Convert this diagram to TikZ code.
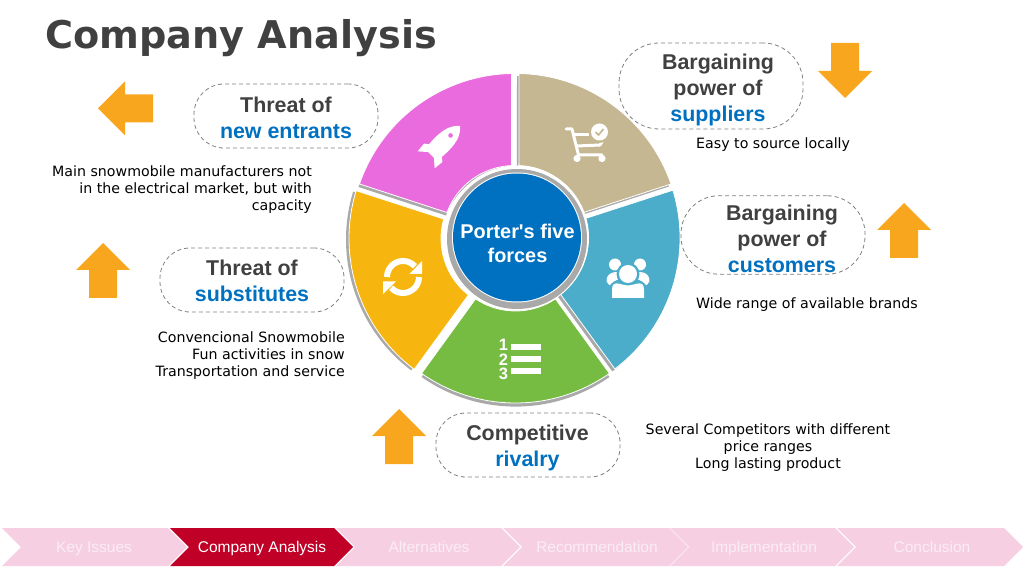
\documentclass[tikz,border=0pt]{standalone}
\usepackage{fontspec}
\setmainfont{Liberation Sans}[Ligatures=TeXOff]
\newfontfamily\verdanalike{DejaVu Sans}
\definecolor{titlegrey}{HTML}{404040}
\definecolor{ringgrey}{HTML}{A9A9A9}
\definecolor{dashgrey}{HTML}{7F7F7F}
\definecolor{forceblue}{HTML}{0070C0}
\definecolor{arroworange}{HTML}{F9A61F}
\definecolor{segpurple}{HTML}{E96BDD}
\definecolor{segtan}{HTML}{C4B792}
\definecolor{segteal}{HTML}{4BADC9}
\definecolor{seggreen}{HTML}{76BC43}
\definecolor{segyellow}{HTML}{F7B50F}
\definecolor{navpink}{HTML}{F6CFE3}
\definecolor{navred}{HTML}{C00026}
\definecolor{navfaint}{HTML}{FBEDF4}
\newcommand{\segpath}[2]{(#1+1.05:164) arc[start angle=#1+1.05,end angle=#2-1.05,radius=164] -- (#2-2.3:72) arc[start angle=#2-2.3,end angle=#1+2.3,radius=72] -- cycle}
\tikzset{
  forcebox/.style={draw=dashgrey,dash pattern=on 4pt off 3pt,line width=0.8pt,minimum width=184pt,inner sep=0pt},
  forcelabel/.style={inner sep=0pt,font=\bfseries\fontsize{21.4}{26}\selectfont,text=titlegrey,align=center},
  note/.style={inner sep=0pt,font=\verdanalike\fontsize{14.2}{17}\selectfont,text=black},
  forcearrow/.style={fill=arroworange,draw=none},
  navlabel/.style={inner sep=0pt,anchor=base,font=\fontsize{15.5}{17}\selectfont}
}
\begin{document}
\begin{tikzpicture}[x=1pt,y=1pt]
  \useasboundingbox (0,0) rectangle (1024,576);

  \node[anchor=west,inner sep=0pt,text=titlegrey,font=\verdanalike\bfseries\fontsize{38.2}{44}\selectfont] (title) at (45,538) {Company Analysis};

  % wheel
  \begin{scope}[shift={(515.5,338.5)}]
    \foreach \a/\b/\segcol/\sx/\sy/\ox/\oy in {90/162/segpurple/-1/-3/-1/0,18/90/segtan/-2/-2.5/0.5/0,-54/18/segteal/-2.5/-2.5/0.5/-0.5,-126/-54/seggreen/0/-3.6/0/-1.5,162/234/segyellow/-3/-1/-2.5/-1}{
      \fill[ringgrey,shift={(\ox+\sx,\oy+\sy)}] \segpath{\a}{\b};
      \fill[\segcol,draw=white,line width=0.8pt,shift={(\ox,\oy)}] \segpath{\a}{\b};
    }
  \end{scope}
  \begin{scope}[shift={(517,338.5)}]
    \fill[white] (0,0) circle (72);
    \fill[ringgrey] (0,-1.5) circle (70);
    \fill[white] (0,0) circle (65);
    \node[circle,fill=forceblue,minimum size=128pt,inner sep=0pt] (hub) at (0,0) {};
    \node[inner sep=0pt,text=white,align=center,font=\bfseries\fontsize{19.9}{24}\selectfont] (hublabel) at (0.5,-6) {Porter's five\\forces};
  \end{scope}

  % rocket
  \begin{scope}[shift={(441,431)},rotate=-45]
    \fill[white] (0,27) .. controls (8,20) and (10.5,10) .. (9,-8) -- (13,-11) -- (12,-21) -- (4,-14) -- (-4,-14) -- (-12,-21) -- (-13,-11) -- (-9,-8) .. controls (-10.5,10) and (-8,20) .. (0,27) -- cycle;
    \fill[segpurple] (0,13.5) circle (2.3);
  \end{scope}

  % cart
  \begin{scope}[white,line width=3pt,line cap=round,line join=round]
    \draw (566,447) -- (572,447) -- (578.5,421) -- (602,421);
    \draw (574,441) -- (591,441);
    \draw (576.5,430) -- (600,431) -- (603,436);
    \fill (577,417.5) circle (3.6);
    \fill (602,417.5) circle (3.6);
  \end{scope}
  \fill[segtan] (599.5,444) circle (11);
  \fill[white] (599.5,444) circle (8.5);
  \draw[segtan,line width=1.6pt] (595.5,444) -- (598.5,441) -- (603.5,447);

  % people
  \fill[white] (615,311.5) circle (6);
  \fill[white] (640,311.5) circle (6);
  \fill[white] (606.5,295) .. controls (606,306) and (622,306) .. (628,300) .. controls (634,306) and (650,306) .. (649.5,295) .. controls (649,290) and (640,288) .. (628,288) .. controls (616,288) and (607,290) .. (606.5,295) -- cycle;
  \fill[segteal] (628,302) circle (11.5);
  \fill[segteal] (628,287) ellipse (19 and 11);
  \fill[white] (628,302) circle (9);
  \fill[white] (612,278) -- (644,278) -- (644,286) .. controls (644,297) and (636,291) .. (628,290.5) .. controls (620,291) and (612,297) .. (612,286) -- cycle;

  % sync
  \begin{scope}[white,line width=6pt]
    \draw (387,299) arc[start angle=180,end angle=42,radius=16];
    \draw (419,299) arc[start angle=0,end angle=-138,radius=16];
  \end{scope}
  \fill[white] (422,315) -- (422,302) -- (409.5,302) -- cycle;
  \fill[white] (383,294.5) -- (396,294.5) -- (383,282) -- cycle;

  % list
  \foreach \ly/\ny/\num in {228.8/231/1,217/216.5/2,204.8/202/3}{
    \fill[white] (511,\ly-2.8) rectangle (540.5,\ly+2.8);
    \node[inner sep=0pt,text=white,font=\bfseries\fontsize{16.5}{16.5}\selectfont] (num\num) at (503.5,\ny) {\num};
  }

  % forces
  \node[forcebox,minimum height=64pt,rounded corners=30pt] (entrants) at (286,460) {};
  \node[forcebox,minimum height=86pt,rounded corners=40pt] (suppliers) at (711,490) {};
  \node[forcebox,minimum height=78.5pt,rounded corners=38pt] (customers) at (773,341) {};
  \node[forcebox,minimum height=64pt,rounded corners=30pt] (substitutes) at (252,296) {};
  \node[forcebox,minimum height=64pt,rounded corners=30pt] (rivalry) at (528,131) {};
  \node[forcelabel] (entrantslabel) at (286,458) {Threat of\\\textcolor{forceblue}{new entrants}};
  \node[forcelabel] (supplierslabel) at (718,486) {Bargaining\\power of\\\textcolor{forceblue}{suppliers}};
  \node[forcelabel] (customerslabel) at (782,337) {Bargaining\\power of\\\textcolor{forceblue}{customers}};
  \node[forcelabel] (substituteslabel) at (252,295) {Threat of\\\textcolor{forceblue}{substitutes}};
  \node[forcelabel] (rivalrylabel) at (527.5,128) {Competitive\\\textcolor{forceblue}{rivalry}};

  % notes
  \node[note,anchor=east,align=right] (noteentrants) at (312,386) {Main snowmobile manufacturers not\\in the electrical market, but with\\capacity};
  \node[note,anchor=east,align=right] (notesubstitutes) at (345,220) {Convencional Snowmobile\\Fun activities in snow\\Transportation and service};
  \node[note,anchor=west] (notesuppliers) at (696,431) {Easy to source locally};
  \node[note,anchor=west] (notecustomers) at (696,271) {Wide range of available brands};
  \node[note,align=center] (noterivalry) at (768,128) {Several Competitors with different\\price ranges\\Long lasting product};

  % arrows
  \foreach \ax/\ay/\arot in {125.5/467.5/90,103/305.5/0,845/505.5/180,904/345.5/0,399/139.5/0}{
    \fill[forcearrow,shift={(\ax,\ay)},rotate=\arot] (0,27.5) -- (27,0.5) -- (14,0.5) -- (14,-27.5) -- (-14,-27.5) -- (-14,0.5) -- (-27,0.5) -- cycle;
  }

  % navigation
  \foreach \i/\nx/\nw/\tx/\navcol/\navtxt/\navtext in {1/2/166/94/navpink/navfaint/Key Issues,2/170/164/262/navred/white/Company Analysis,3/336/165/429/navpink/navfaint/Alternatives,4/503/166/597/navpink/navfaint/Recommendation,5/670/165/764/navpink/navfaint/Implementation,6/837/167/932/navpink/navfaint/Conclusion}{
    \fill[\navcol] (\nx,48) -- (\nx+\nw,48) -- (\nx+\nw+19,29) -- (\nx+\nw,10) -- (\nx,10) -- (\nx+19,29) -- cycle;
    \node[navlabel,text=\navtxt] (nav\i) at (\tx,24) {\navtext};
  }
\end{tikzpicture}
\end{document}
